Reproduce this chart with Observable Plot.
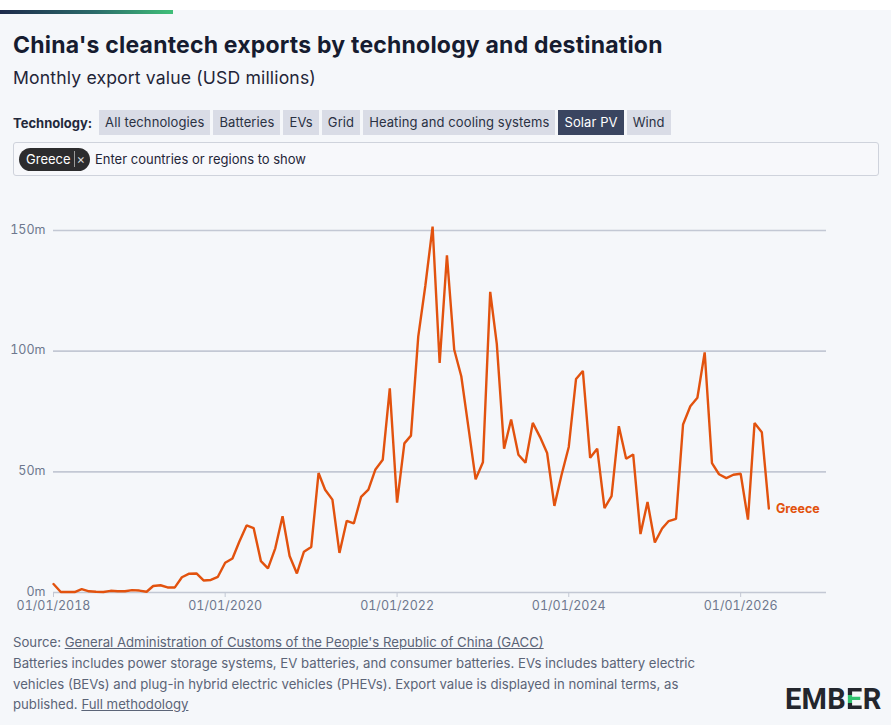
<!DOCTYPE html>
<html>
<head>
<meta charset="utf-8">
<script src="https://cdn.jsdelivr.net/npm/d3@7"></script>
<script src="https://cdn.jsdelivr.net/npm/@observablehq/plot@0.6"></script>
<style>
  html, body { margin: 0; padding: 0; background: #ffffff; }
  body { width: 891px; height: 725px; position: relative; overflow: hidden;
         font-family: "Inter", "Noto Sans", sans-serif; color: #1c2236; }
  .card { position: absolute; left: 0; top: 10px; width: 891px; height: 715px; background: #f5f7fa; }
  .accent { position: absolute; left: 0; top: 10px; width: 173px; height: 4px;
            background: linear-gradient(90deg, #1d2a4b 0%, #2b6b6a 55%, #3fbf78 100%); }
  .title { position: absolute; left: 13px; top: 31px; font-size: 23px; font-weight: 700;
           color: #161c30; letter-spacing: 0.2px; white-space: nowrap; line-height: 28px; }
  .subtitle { position: absolute; left: 13px; top: 66px; font-size: 17.6px; font-weight: 400;
              color: #1f2538; white-space: nowrap; line-height: 24px; letter-spacing: 0.15px; }
  .tech { position: absolute; left: 13px; top: 110px; height: 25px; display: flex; align-items: center; gap: 3px; }
  .tech .lbl { font-size: 13px; font-weight: 700; color: #23293b; margin-right: 4px; }
  .tech .btn { height: 25px; line-height: 25px; padding: 0 6px; background: #d9dce6; color: #2a3143;
               font-size: 13px; white-space: nowrap; box-sizing: border-box; letter-spacing: 0.1px; }
  .tech .btn.on { background: #3a4560; color: #ffffff; }
  .search { position: absolute; left: 13px; top: 142px; width: 866px; height: 34px; box-sizing: border-box;
            border: 1px solid #cfd3dc; border-radius: 3px; background: #f7f8fb; }
  .chip { position: absolute; left: 5px; top: 5px; height: 23px; padding: 0 5px 0 7px; border-radius: 12px;
          background: #2c2c2e; color: #fff; font-size: 13px; line-height: 23px; white-space: nowrap; }
  .chip .x { color: #d9d9d9; margin-left: 3px; border-left: 1px solid #9a9a9a; padding-left: 2px; }
  .hint { position: absolute; left: 81px; top: 0; line-height: 32px; font-size: 13px; color: #1f2538; white-space: nowrap; }
  #chart { position: absolute; left: 0; top: 195px; }
  .foot { position: absolute; left: 13px; top: 632px; font-size: 13.2px; line-height: 20.8px; color: #5b6477; white-space: nowrap; }
  .foot u { text-decoration-color: #5b6477; }
  .logo { position: absolute; left: 785px; top: 683px; font-family: "Roboto", sans-serif; font-weight: 700;
          font-size: 29px; line-height: 32px; color: #23262d; letter-spacing: 0.3px; white-space: nowrap; }
  .logo .e { background: linear-gradient(180deg, #23262d 0%, #23262d 38%, #2fc26f 38%, #2fc26f 62%, #23262d 62%, #23262d 100%);
             -webkit-background-clip: text; background-clip: text; color: transparent; }
</style>
</head>
<body>
<div class="card"></div>
<div class="accent"></div>
<div class="title">China's cleantech exports by technology and destination</div>
<div class="subtitle">Monthly export value (USD millions)</div>
<div class="tech" id="tech"><span class="lbl">Technology:</span></div>
<div class="search">
  <div class="chip">Greece<span class="x">×</span></div>
  <div class="hint">Enter countries or regions to show</div>
</div>
<div id="chart"></div>
<div class="foot">
  Source: <u>General Administration of Customs of the People's Republic of China (GACC)</u><br>
  Batteries includes power storage systems, EV batteries, and consumer batteries. EVs includes battery electric<br>
  vehicles (BEVs) and plug-in hybrid electric vehicles (PHEVs). Export value is displayed in nominal terms, as<br>
  published. <u>Full methodology</u>
</div>
<div class="logo">EMB<span class="e">E</span>R</div>
<script>
// Technology filter options
const technologies = ["All technologies", "Batteries", "EVs", "Grid", "Heating and cooling systems", "Solar PV", "Wind"];
const selectedTechnology = "Solar PV";
const country = "Greece";

// Monthly Solar PV export value to Greece, USD millions, starting January 2018
const firstMonth = "2018-01-01";
const values = [
  3.5, 0.2, 0.2, 0.2, 1.4, 0.5, 0.3, 0.2, 0.7, 0.5, 0.5, 1.0,
  0.8, 0.3, 2.7, 3.0, 2.1, 2.1, 6.3, 7.8, 7.9, 5.0, 5.2, 6.5,
  12.3, 14.1, 21.0, 27.8, 26.7, 13.0, 10.0, 18.3, 31.6, 15.1, 7.9, 16.9,
  18.9, 49.5, 42.6, 38.5, 16.4, 29.7, 28.6, 39.6, 42.6, 51.0, 55.0, 84.6,
  37.2, 61.8, 65.0, 106.0, 127.0, 151.6, 95.1, 139.7, 100.6, 89.6, 68.0, 46.9,
  54.0, 124.6, 103.0, 59.6, 71.7, 57.1, 53.8, 70.3, 64.4, 57.8, 35.9, 48.6,
  60.3, 88.5, 91.8, 55.8, 59.6, 35.0, 39.9, 68.9, 55.4, 57.2, 24.2, 37.5,
  20.7, 26.5, 29.6, 30.5, 69.6, 77.2, 80.7, 99.5, 53.6, 49.0, 47.4, 48.8,
  49.2, 30.2, 70.2, 66.4, 34.8
];

// Axis ticks
const yTicks = [0, 50, 100, 150];
const xTicks = ["2018-01-01", "2020-01-01", "2022-01-01", "2024-01-01", "2026-01-01"];
const xDomain = ["2018-01-01", "2027-01-01"];

const tech = document.getElementById("tech");
for (const t of technologies) {
  const b = document.createElement("span");
  b.className = "btn" + (t === selectedTechnology ? " on" : "");
  b.textContent = t;
  tech.appendChild(b);
}

const start = new Date(firstMonth);
const data = values.map((v, i) => ({date: d3.utcMonth.offset(start, i), value: v}));

const lineColor = "#e2520e";
const fmtDate = d3.utcFormat("%d/%m/%Y");

const chart = Plot.plot({
  width: 891,
  height: 425,
  marginLeft: 53,
  marginRight: 65,
  marginTop: 35,
  marginBottom: 28,
  style: {background: "transparent", fontFamily: "Inter, 'Noto Sans', sans-serif", fontSize: "12.5px", color: "#6e778e", overflow: "visible"},
  x: {type: "utc", domain: xDomain.map(d => new Date(d)), label: null},
  y: {domain: [0, 150], label: null},
  marks: [
    Plot.ruleY(yTicks, {stroke: "#c3c8d4", strokeWidth: 1.6}),
    Plot.axisY({ticks: yTicks, tickFormat: d => d + "m", tickSize: 0, tickPadding: 8, dy: -1, label: null, fill: "#6e778e"}),
    Plot.axisX({ticks: xTicks.map(d => new Date(d)), tickFormat: fmtDate, tickSize: 5, tickPadding: 4, stroke: "#c3c8d4", label: null, fill: "#6e778e"}),
    Plot.lineY(data, {x: "date", y: "value", stroke: lineColor, strokeWidth: 2.4, strokeLinejoin: "miter"}),
    Plot.text(data.slice(-1), {x: "date", y: "value", text: () => country, dx: 7, textAnchor: "start",
      fill: lineColor, fontWeight: 700, fontSize: 12.5})
  ]
});
document.getElementById("chart").appendChild(chart);
</script>
</body>
</html>
